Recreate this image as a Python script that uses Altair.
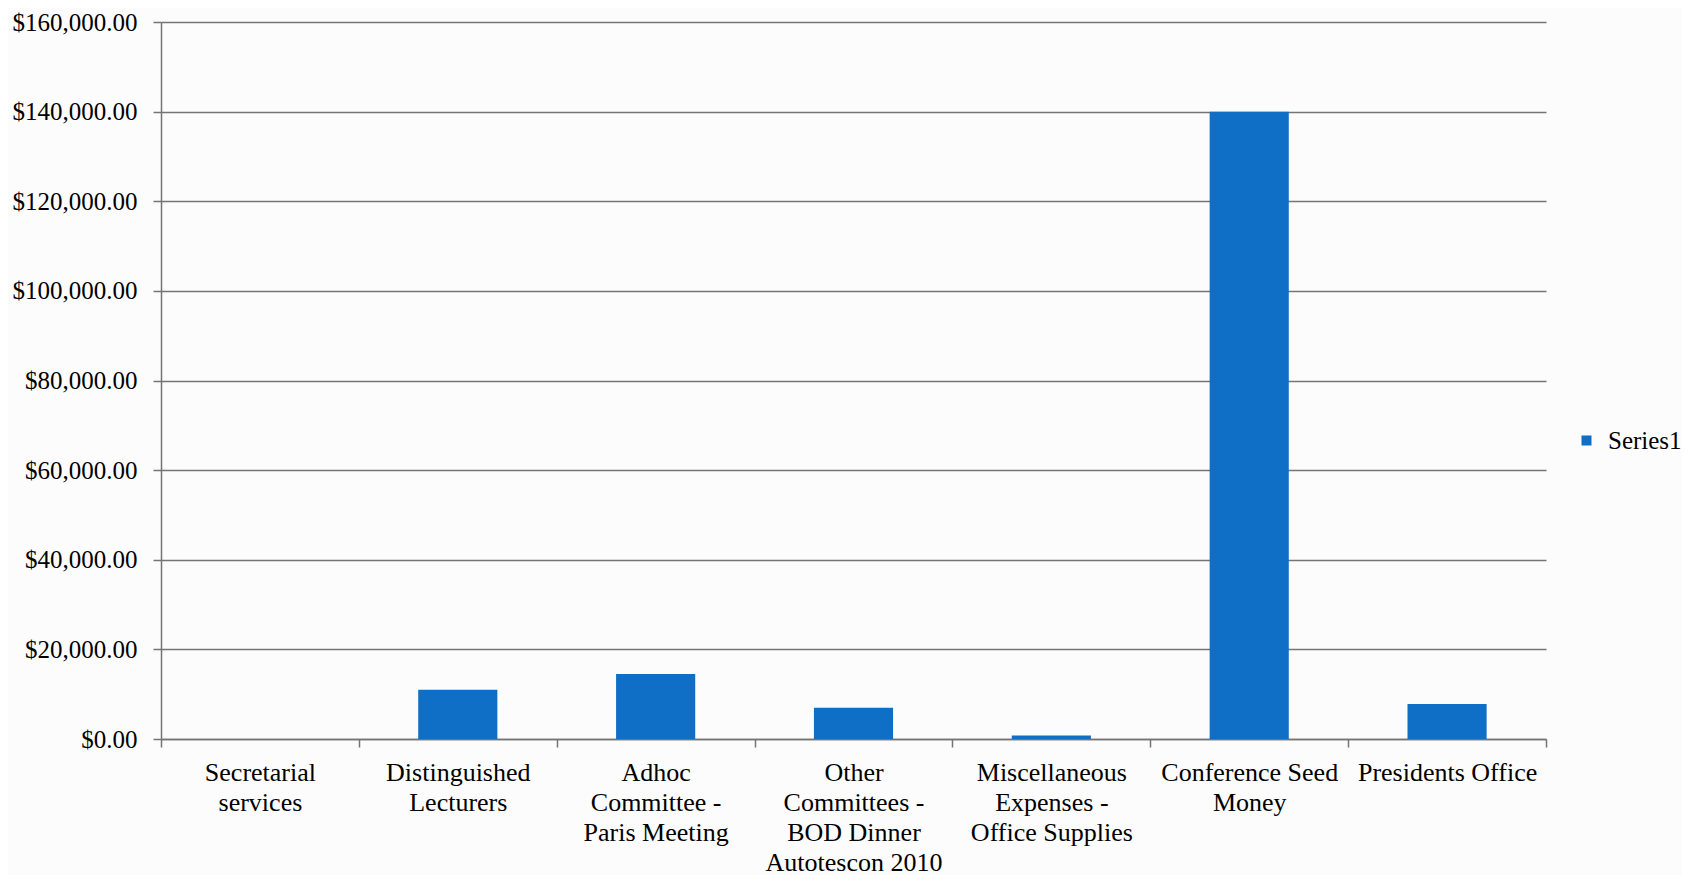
import altair as alt
import pandas as pd

categories = [
    ["Secretarial", "services"],
    ["Distinguished", "Lecturers"],
    ["Adhoc", "Committee -", "Paris Meeting"],
    ["Other", "Committees -", "BOD Dinner", "Autotescon 2010"],
    ["Miscellaneous", "Expenses -", "Office Supplies"],
    ["Conference Seed", "Money"],
    ["Presidents Office"],
]
values = [0, 11000, 14500, 7000, 800, 140000, 7800]
series = ["Series1"] * len(values)
y_ticks = [0, 20000, 40000, 60000, 80000, 100000, 120000, 140000, 160000]

keys = [" ".join(c) for c in categories]
df = pd.DataFrame({"cat": keys, "value": values, "series": series})

label_expr = "{" + ", ".join(
    '"%s": [%s]' % (k, ", ".join('"%s"' % p for p in c)) for k, c in zip(keys, categories)
) + "}[datum.value]"

FONT = "Liberation Serif"
GRAY = "#747474"

chart = alt.Chart(df).mark_bar(width=alt.RelativeBandSize(0.4), color="#0F6FC6").encode(
    x=alt.X(
        "cat:N",
        sort=keys,
        scale=alt.Scale(paddingInner=0, paddingOuter=0),
        axis=alt.Axis(
            title=None,
            labelAngle=0,
            labelExpr=label_expr,
            labelFont=FONT,
            labelFontSize=26,
            labelColor="#000000",
            labelLineHeight=30,
            labelPadding=12,
            labelBaseline="top",
            tickBand="extent",
            tickSize=8,
            tickColor=GRAY,
            tickWidth=1.5,
            domainColor=GRAY,
            domainWidth=1.5,
            grid=False,
            labelLimit=300,
        ),
    ),
    y=alt.Y(
        "value:Q",
        scale=alt.Scale(domain=[0, 160000]),
        axis=alt.Axis(
            title=None,
            format="$,.2f",
            values=y_ticks,
            labelFont=FONT,
            labelFontSize=25,
            labelColor="#000000",
            labelPadding=16,
            tickSize=8,
            tickColor=GRAY,
            tickWidth=1.5,
            domainColor=GRAY,
            domainWidth=1.5,
            gridColor=GRAY,
            gridWidth=1.5,
        ),
    ),
    color=alt.Color(
        "series:N",
        scale=alt.Scale(range=["#0F6FC6"]),
        legend=alt.Legend(
            title=None,
            orient="none",
            legendX=1413,
            legendY=406,
            symbolType="square",
            symbolSize=100,
            symbolStrokeWidth=0,
            labelFont=FONT,
            labelFontSize=25,
            labelColor="#000000",
            labelOffset=9,
        ),
    ),
).properties(
    width=1385,
    height=717,
    autosize=alt.AutoSizeParams(type="none"),
    padding={"left": 153, "top": 14, "right": 136, "bottom": 136},
    background="#fcfcfc",
).configure_view(stroke=None)

chart.save("out.html", embed_options={"renderer": "svg", "actions": False})
